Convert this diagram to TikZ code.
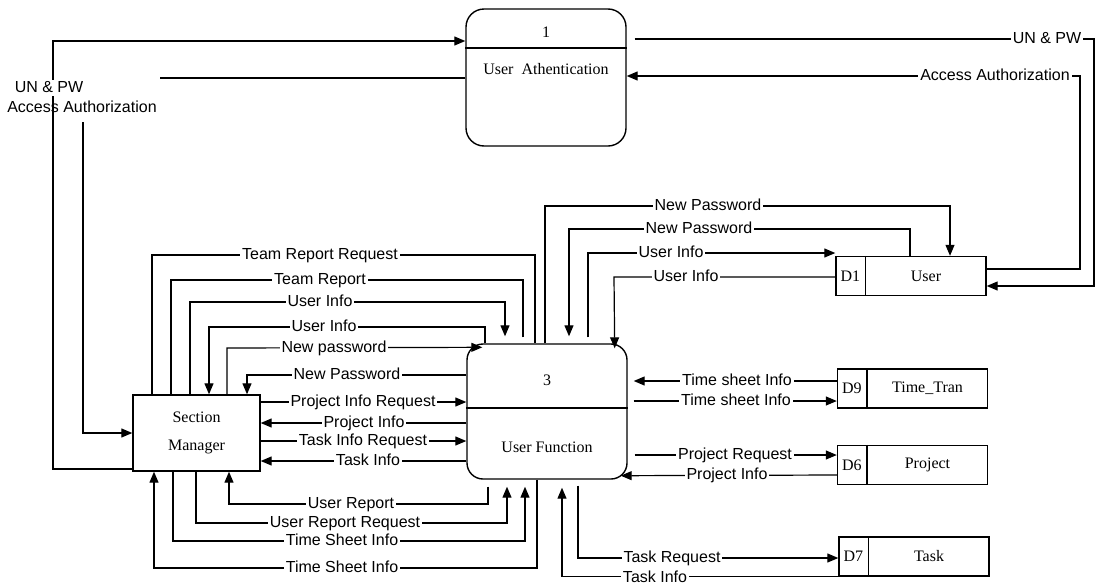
\documentclass[tikz,border=0pt]{standalone}
\usepackage{fontspec}
\setmainfont{Liberation Serif}
\setsansfont{Liberation Sans}
\usetikzlibrary{arrows.meta}
\begin{document}
\begin{tikzpicture}[x=1pt,y=-1pt,
  ln/.style={line width=1.2pt},
  arr/.style={line width=1.2pt,-{Triangle[length=11pt,width=9pt]}},
  lbl/.style={fill=white,inner xsep=2pt,inner ysep=0.5pt,font=\sffamily\fontsize{16}{18}\selectfont,text height=11.5pt,text depth=3.5pt},
  lblnf/.style={inner sep=0pt,font=\sffamily\fontsize{16}{18}\selectfont,text height=11.5pt,text depth=3.5pt},
  proc/.style={draw,line width=1.4pt,rounded corners=16pt,minimum width=160pt,minimum height=135pt,inner sep=0pt},
  entity/.style={draw,line width=1.4pt,minimum width=127pt,minimum height=76pt,align=center,font=\fontsize{16}{28}\selectfont},
  store/.style={draw,line width=1.4pt,minimum width=150pt,minimum height=39pt,inner sep=0pt},
  stxt/.style={font=\fontsize{16}{18}\selectfont,inner sep=0pt}
]
\useasboundingbox (0,0) rectangle (1097,584);

% ---- boxes ----
\node[proc,rounded corners=18pt,minimum height=137pt] (p1) at (546,77.5) {};
\node[proc] (p3) at (547,411.5) {};
\node[entity] (sm) at (196.5,433) {Section\\Manager};
\node[store] (d1) at (911,276) {};
\node[store] (d9) at (912.5,388.5) {};
\node[store] (d6) at (912.5,465) {};
\node[store] (d7) at (914,556.5) {};

\draw[line width=1.4pt] (p1.west |- 0,48) -- (p1.east |- 0,48);
\draw[line width=1.4pt] (p3.west |- 0,408) -- (p3.east |- 0,408);
\foreach \s in {d1,d9,d6,d7}{
  \draw[line width=1.4pt] ([xshift=30pt]\s.north west) -- ([xshift=30pt]\s.south west);
}

\node[stxt] (n1) at (546,32) {1};
\node[stxt] (n1t) at (546,69) {User~~Athentication};
\node[stxt] (n3) at (547,380) {3};
\node[stxt] (n3t) at (547,447) {User Function};
\node[stxt] (d1a) at ([xshift=15pt]d1.west) {D1};
\node[stxt] (d1b) at ([xshift=15pt]d1.center) {User};
\node[stxt] (d9a) at ([xshift=15pt]d9.west) {D9};
\node[stxt] (d9b) at ([xshift=15pt]d9.center) {Time\_Tran};
\node[stxt] (d6a) at ([xshift=15pt]d6.west) {D6};
\node[stxt] (d6b) at ([xshift=15pt]d6.center) {Project};
\node[stxt] (d7a) at ([xshift=15pt]d7.west) {D7};
\node[stxt] (d7b) at ([xshift=15pt]d7.center) {Task};

% ---- connectors ----
\draw[arr] (sm.west |- 0,469) -- (53,469) -- (53,41) -- (p1.west |- 0,41);
\draw[ln] (p1.west |- 0,78) -- (160,78);
\coordinate (aa) at (83,122);
\draw[arr] (aa) -- (83,433) -- (sm.west |- 0,433);
\draw[arr,shorten <=8pt] (p1.east |- 0,39) -- (1094,39) -- (1094,286) -- (d1.east |- 0,286);
\draw[arr] (d1.east |- 0,269) -- (1080,269) -- (1080,76) -- (p1.east |- 0,76);

\draw[ln] (152,0 |- sm.north) -- (152,255) -- (535,255) -- (535,0 |- p3.north);
\draw[ln,shorten <=6pt] (523,0 |- p3.north) -- (523,280) -- (171,280) -- (171,0 |- sm.north);
\draw[arr,shorten >=7pt] (190,0 |- sm.north) -- (190,302) -- (505,302) -- (505,0 |- p3.north);
\draw[arr] (485,0 |- p3.north) -- (485,327) -- (209,327) -- (209,0 |- sm.north);
\draw[arr] (227,0 |- sm.north) -- (227,348) -- ([xshift=16pt,yshift=-4pt]p3.north west);
\draw[arr] (p3.west |- 0,375) -- (247,375) -- (247,0 |- sm.north);

\draw[arr] (sm.east |- 0,402) -- (p3.west |- 0,402);
\draw[arr] (p3.west |- 0,423) -- (sm.east |- 0,423);
\draw[arr] (sm.east |- 0,441) -- (p3.west |- 0,441);
\draw[arr] (p3.west |- 0,461) -- (sm.east |- 0,461);

\draw[arr,shorten <=7pt] (488,0 |- p3.south) -- (488,504) -- (229,504) -- (229,0 |- sm.south);
\draw[arr,shorten >=7pt] (196,0 |- sm.south) -- (196,523) -- (507,523) -- (507,0 |- p3.south);
\draw[arr,shorten >=7pt] (173,0 |- sm.south) -- (173,541) -- (525,541) -- (525,0 |- p3.south);
\draw[arr] (537,0 |- p3.south) -- (537,568) -- (154,568) -- (154,0 |- sm.south);
\draw[arr,shorten >=8pt] (d7.south west) -- (562,0 |- d7.south west) -- (562,0 |- p3.south);
\draw[arr,shorten <=6pt] (578,0 |- p3.south) -- (578,558) -- (d7.west |- 0,558);

\draw[arr,shorten >=6pt] (d9.west |- 0,381) -- (p3.east |- 0,381);
\draw[arr,shorten <=6pt] (p3.east |- 0,401) -- (d9.west |- 0,401);
\draw[arr,shorten <=7pt] (p3.east |- 0,455) -- (d6.west |- 0,455);
\draw[arr] (d6.west |- 0,475) -- ([xshift=-7pt,yshift=4pt]p3.south east);

\draw[arr] (545,0 |- p3.north) -- (545,206) -- (950,206) -- (950,0 |- d1.north);
\draw[arr,shorten >=7pt] (910,0 |- d1.north) -- (910,229) -- (569,229) -- (569,0 |- p3.north);
\draw[arr,shorten <=6pt] (588,0 |- p3.north) -- (588,253) -- (d1.west |- 0,253);
\draw[arr] (d1.west |- 0,277) -- (614,277) -- ([xshift=-13pt,yshift=-5pt]p3.north east);

% ---- labels ----
\node[lbl] (L1) at (49,88) {UN \& PW};
\node[lblnf] (L2) at (82,108) {Access Authorization};
\node[lbl] (L3) at (1047,39) {UN \& PW};
\node[lbl] (L4) at (995,76) {Access Authorization};
\node[lbl] (L5) at (320,255) {Team Report Request};
\node[lbl] (L6) at (320,280) {Team Report};
\node[lbl] (L7) at (320,302) {User Info};
\node[lbl] (L8) at (324,327) {User Info};
\node[lbl] (L9) at (334,348) {New password};
\node[lbl] (L10) at (347,375) {New Password};
\node[lbl] (L11) at (363,402) {Project Info Request};
\node[lbl] (L12) at (364,423) {Project Info};
\node[lbl] (L13) at (363,441) {Task Info Request};
\node[lbl] (L14) at (368,461) {Task Info};
\node[lbl] (L15) at (351,504) {User Report};
\node[lbl] (L16) at (345,523) {User Report Request};
\node[lbl] (L17) at (342,541) {Time Sheet Info};
\node[lbl] (L18) at (342,568) {Time Sheet Info};
\node[lbl] (L19) at (655,578) {Task Info};
\node[lbl] (L20) at (672,558) {Task Request};
\node[lbl] (L21) at (737,381) {Time sheet Info};
\node[lbl] (L22) at (736,401) {Time sheet Info};
\node[lbl] (L23) at (735,455) {Project Request};
\node[lbl] (L24) at (727,475) {Project Info};
\node[lbl] (L25) at (708,206) {New Password};
\node[lbl] (L26) at (699,229) {New Password};
\node[lbl] (L27) at (671,253) {User Info};
\node[lbl] (L28) at (686,277) {User Info};
\end{tikzpicture}
\end{document}
